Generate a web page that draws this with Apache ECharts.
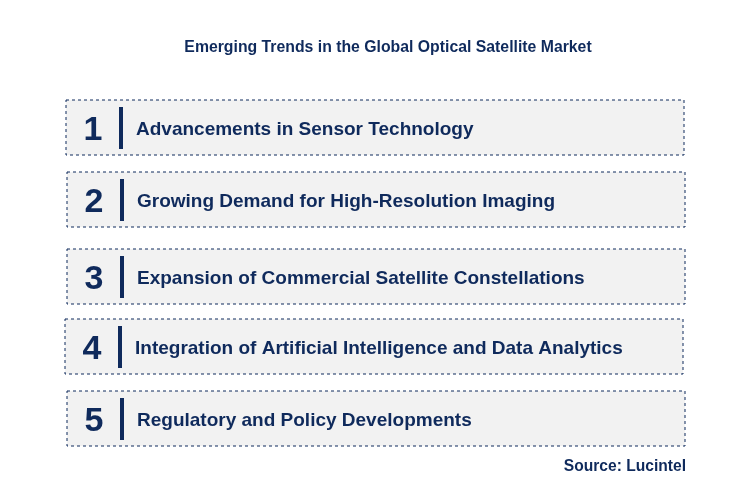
<!DOCTYPE html>
<html>
<head>
<meta charset="utf-8">
<script src="https://cdn.jsdelivr.net/npm/echarts@6/dist/echarts.min.js"></script>
<style>html,body{margin:0;padding:0;background:#fff}#c{width:729px;height:495px}</style>
</head>
<body>
<div id="c"></div>
<script>
const TITLE = 'Emerging Trends in the Global Optical Satellite Market';
const NUMBERS = ['1', '2', '3', '4', '5'];
const TRENDS = [
  'Advancements in Sensor Technology',
  'Growing Demand for High-Resolution Imaging',
  'Expansion of Commercial Satellite Constellations',
  'Integration of Artificial Intelligence and Data Analytics',
  'Regulatory and Policy Developments'
];
const SOURCE = 'Source: Lucintel';

const NAVY = '#0f2a5c';
const boxTops = [100, 172, 249, 319, 391];
const boxLefts = [66, 67, 67, 65, 67];

const chart = echarts.init(document.getElementById('c'));
const elements = [];
TRENDS.forEach((t, i) => {
  const y = boxTops[i], x = boxLefts[i];
  elements.push({
    type: 'rect',
    shape: { x: x, y: y, width: 618, height: 55 },
    style: { fill: '#f2f2f2', stroke: NAVY, lineWidth: 1, lineDash: [3, 3] }
  });
  elements.push({
    type: 'text',
    style: { x: x + 27, y: y + 31, text: NUMBERS[i], fill: NAVY,
      font: 'bold 34px Arial, "Liberation Sans"', align: 'center', verticalAlign: 'middle' }
  });
  elements.push({
    type: 'rect',
    shape: { x: x + 53, y: y + 7, width: 4, height: 42 },
    style: { fill: NAVY }
  });
  elements.push({
    type: 'text',
    style: { x: x + 70, y: y + 30, text: t, fill: NAVY,
      font: 'bold 19px Arial, "Liberation Sans"', align: 'left', verticalAlign: 'middle' }
  });
});
elements.push({
  type: 'text',
  style: { x: 388, y: 48, text: TITLE, fill: NAVY,
    font: 'bold 15.8px Arial, "Liberation Sans"', align: 'center', verticalAlign: 'middle' }
});
elements.push({
  type: 'text',
  style: { x: 686, y: 467, text: SOURCE, fill: NAVY,
    font: 'bold 15.6px Arial, "Liberation Sans"', align: 'right', verticalAlign: 'middle' }
});

chart.setOption({ backgroundColor: '#fff', graphic: { elements: elements } });
</script>
</body>
</html>
